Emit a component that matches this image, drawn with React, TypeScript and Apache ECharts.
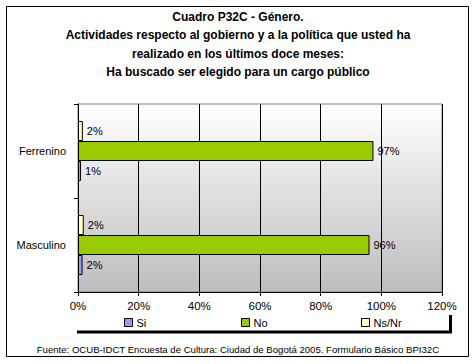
import React, { useEffect, useRef } from "react";
import * as echarts from "echarts";

const categories = ["Masculino", "Ferrenino"];
const seriesNames = ["Si", "No", "Ns/Nr"];
const siValues = [1.5, 1.0];
const noValues = [96.1, 97.4];
const nsnrValues = [1.9, 1.6];
const xTicks = [0, 20, 40, 60, 80, 100, 120];
const titleLines = [
  "Cuadro P32C - Género.",
  "Actividades respecto al gobierno y a la política que usted ha",
  "realizado en los últimos doce meses:",
  "Ha buscado ser elegido para un cargo público",
];
const footer =
  "Fuente: OCUB-IDCT Encuesta de Cultura: Ciudad de Bogotá 2005. Formulario Básico BPI32C";

const colors: Record<string, string> = { Si: "#9999ff", No: "#99cc00", "Ns/Nr": "#ffffcc" };
const FONT = "'Liberation Sans', Arial, sans-serif";

export default function App() {
  const ref = useRef<HTMLDivElement>(null);
  useEffect(() => {
    if (!ref.current) return;
    const chart = echarts.init(ref.current, null, { renderer: "svg" });
    const label = {
      show: true,
      position: "right",
      distance: 4,
      color: "#000",
      fontFamily: FONT,
      fontSize: 11,
      formatter: (p: any) => Math.round(p.value) + "%",
    };
    const mk = (name: string, data: number[]) => ({
      name,
      type: "bar",
      data,
      barWidth: 20,
      barGap: "0%",
      itemStyle: { color: colors[name], borderColor: "#000", borderWidth: 1 },
      label,
    });
    const legendPos = [124, 241, 361];
    chart.setOption({
      animation: false,
      backgroundColor: "#fff",
      title: {
        text: titleLines.join("\n"),
        left: "center",
        top: 8,
        padding: [0, 0, 0, 0],
        textStyle: { fontFamily: FONT, fontSize: 12, fontWeight: "bold", color: "#000", lineHeight: 18.3 },
      },
      grid: {
        left: 78,
        right: 34,
        top: 104,
        bottom: 72,
        show: true,
        borderColor: "#808080",
        borderWidth: 1,
        backgroundColor: new echarts.graphic.LinearGradient(0, 0, 0, 1, [
          { offset: 0, color: "#ffffff" },
          { offset: 1, color: "#bdbdbd" },
        ]),
      },
      xAxis: {
        type: "value",
        min: xTicks[0],
        max: xTicks[xTicks.length - 1],
        interval: 20,
        axisLine: { show: true, lineStyle: { color: "#000", width: 1 } },
        axisTick: { show: true, length: 4, lineStyle: { color: "#000" } },
        axisLabel: { color: "#000", fontFamily: FONT, fontSize: 11.5, margin: 8, formatter: "{value}%" },
        splitLine: { show: true, lineStyle: { color: "#000", width: 1 } },
      },
      yAxis: {
        type: "category",
        data: categories,
        axisLine: { show: true, lineStyle: { color: "#000", width: 1 } },
        axisTick: { show: true, length: 4, lineStyle: { color: "#000" } },
        axisLabel: { color: "#000", fontFamily: FONT, fontSize: 11, margin: 12 },
        splitLine: { show: false },
      },
      legend: seriesNames.map((n, i) => ({
        data: [n],
        left: legendPos[i],
        top: 317,
        padding: 0,
        itemWidth: 8,
        itemHeight: 8,
        itemGap: 4,
        icon: "rect",
        itemStyle: { borderColor: "#000", borderWidth: 1 },
        textStyle: { fontFamily: FONT, fontSize: 11, color: "#000", padding: [0, 0, 0, -1] },
        selectedMode: false,
      })),
      series: [mk("Ns/Nr", nsnrValues), mk("No", noValues), mk("Si", siValues)],
      graphic: [
        {
          type: "rect",
          shape: { x: 6.5, y: 6.5, width: 462, height: 350 },
          style: { fill: "none", stroke: "#000", lineWidth: 1 },
          silent: true,
        },
        {
          type: "line",
          shape: { x1: 77, y1: 332, x2: 452, y2: 332 },
          style: { stroke: "#000", lineWidth: 3 },
          silent: true,
        },
        {
          type: "line",
          shape: { x1: 450.5, y1: 315, x2: 450.5, y2: 333 },
          style: { stroke: "#000", lineWidth: 3 },
          silent: true,
        },
        {
          type: "text",
          left: "center",
          top: 344,
          style: { text: footer, fontFamily: FONT, fontSize: 9.6, fill: "#000" },
          silent: true,
        },
      ],
    });
    return () => chart.dispose();
  }, []);
  return <div ref={ref} style={{ width: 476, height: 364, position: "absolute", left: 0, top: 0 }} />;
}
